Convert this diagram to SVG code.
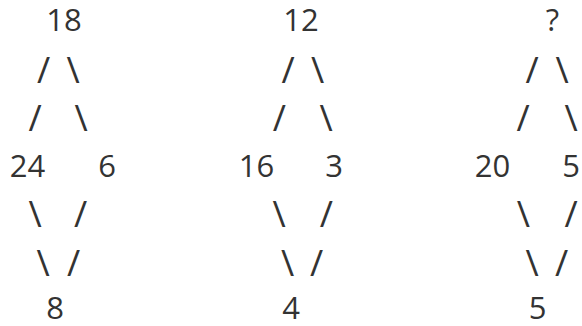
<svg xmlns="http://www.w3.org/2000/svg" width="582" height="326" viewBox="0 0 582 326">
<style>
.n{font-family:"Open Sans","Noto Sans","Liberation Sans",sans-serif;font-size:31px;fill:#333;text-anchor:middle}
.s{font-family:"Open Sans","Noto Sans","Liberation Sans",sans-serif;font-size:36px;fill:#333;text-anchor:middle}
</style>
<rect width="582" height="326" fill="#fff"/>
<g id="tree1">
<g id="t1-top"><text class="n" x="64" y="31">18</text></g>
<g id="t1-left"><text class="n" x="27.5" y="177">24</text></g>
<g id="t1-right"><text class="n" x="107" y="177">6</text></g>
<g id="t1-bottom"><text class="n" x="55" y="319">8</text></g>
</g>
<g id="tree2">
<g id="t2-top"><text class="n" x="301" y="31">12</text></g>
<g id="t2-left"><text class="n" x="256.5" y="177">16</text></g>
<g id="t2-right"><text class="n" x="334" y="177">3</text></g>
<g id="t2-bottom"><text class="n" x="291" y="319">4</text></g>
</g>
<g id="tree3">
<g id="t3-top"><text class="n" x="552.5" y="31">?</text></g>
<g id="t3-left"><text class="n" x="492.5" y="177">20</text></g>
<g id="t3-right"><text class="n" x="571" y="177">5</text></g>
<g id="t3-bottom"><text class="n" x="537.5" y="319">5</text></g>
</g>
<g id="connectors">
<text class="s" x="43.5" y="83">/</text><text class="s" x="73" y="83">\</text>
<text class="s" x="35" y="131">/</text><text class="s" x="81" y="131">\</text>
<text class="s" x="35" y="227">\</text><text class="s" x="80.5" y="227">/</text>
<text class="s" x="43" y="276">\</text><text class="s" x="73.5" y="276">/</text>
<text class="s" x="288" y="83">/</text><text class="s" x="317.5" y="83">\</text>
<text class="s" x="279.3" y="131">/</text><text class="s" x="326" y="131">\</text>
<text class="s" x="279" y="227">\</text><text class="s" x="326.3" y="227">/</text>
<text class="s" x="287.5" y="276">\</text><text class="s" x="316.7" y="276">/</text>
<text class="s" x="532" y="83">/</text><text class="s" x="562" y="83">\</text>
<text class="s" x="523" y="131">/</text><text class="s" x="571" y="131">\</text>
<text class="s" x="523.3" y="227">\</text><text class="s" x="571" y="227">/</text>
<text class="s" x="532" y="276">\</text><text class="s" x="561.7" y="276">/</text>
</g>
</svg>
